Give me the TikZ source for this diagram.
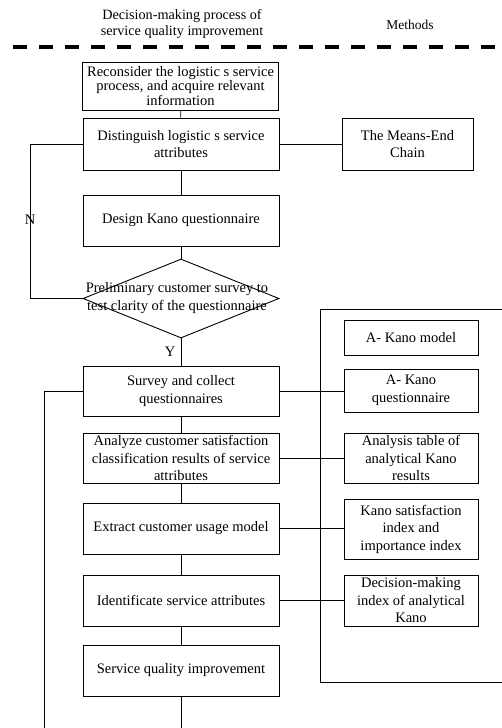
\documentclass[tikz,border=0pt]{standalone}
\usepackage{fontspec}
\setmainfont{Liberation Serif}
\usetikzlibrary{shapes.geometric}
\begin{document}
\begin{tikzpicture}[x=1pt,y=-1pt,
  every node/.style={font=\fontsize{14.5}{17.5}\selectfont},
  conn/.style={line width=0.9pt},
  procbox/.style={draw, line width=0.9pt, rectangle, inner sep=0pt, minimum width=196pt, align=center},
  methbox/.style={draw, line width=0.9pt, rectangle, inner sep=0pt, minimum width=134pt, align=center},
  lbl/.style={inner sep=0pt, align=center}]
\useasboundingbox (0,0) rectangle (501,728);

% header
\node[lbl, font=\fontsize{14.2}{16}\selectfont] (hdl) at (182,24.5) {Decision-making process of\\service quality improvement};
\node[lbl, font=\fontsize{13.5}{16}\selectfont] (hdr) at (410,25) {Methods};
\draw[line width=3.3pt, dash pattern=on 14pt off 12pt] (13,47) -- (515,47);

% process column
\node[procbox, minimum height=48pt, font=\fontsize{14.5}{13}\selectfont] (b1) at (180.5,86) {Reconsider the logistic s service\\process, and acquire relevant\\information};
\node[procbox, minimum height=52pt] (b2) at (181,144) {Distinguish logistic s service\\attributes};
\node[procbox, minimum height=51pt] (b3) at (181,220.5) {Design Kano questionnaire};
\node[draw, diamond, line width=0.9pt, inner sep=0pt, minimum width=196pt, minimum height=79pt] (dm) at (181,298.5) {};
\node[lbl] (dmt) at (177,298) {Preliminary customer survey to\\test clarity of the questionnaire};
\node[procbox, minimum height=50pt] (b4) at (181,391) {Survey and collect\\questionnaires};
\node[procbox, minimum height=50pt] (b5) at (181,458) {Analyze customer satisfaction\\classification results of service\\attributes};
\node[procbox, minimum height=51pt] (b6) at (181,528.5) {Extract customer usage model};
\node[procbox, minimum height=51pt] (b7) at (181,600.5) {Identificate service attributes};
\node[procbox, minimum height=51pt] (b8) at (181,670.5) {Service quality improvement};

% methods column
\node[methbox, minimum width=131pt, minimum height=52pt] (me) at (407.5,144) {The Means-End\\Chain};
\draw[line width=0.9pt] (520,309) -- (320,309) -- (320,682) -- (520,682);
\node[methbox, minimum height=35pt] (m1) at (411,337.5) {A- Kano model};
\node[methbox, minimum height=43pt] (m2) at (411,390.5) {A- Kano\\questionnaire};
\node[methbox, minimum height=50pt] (m3) at (411,458) {Analysis table of\\analytical Kano\\results};
\node[methbox, minimum height=60pt] (m4) at (411,529) {Kano satisfaction\\index and\\importance index};
\node[methbox, minimum height=51pt] (m5) at (411,600.5) {Decision-making\\index of analytical\\Kano};

% labels
\node[lbl] (nl) at (30,220) {N};
\node[lbl] (yl) at (170,352) {Y};

% connectors
\draw[conn] (b1) -- (b2);
\draw[conn] (b2) -- (b3);
\draw[conn] (b3) -- (dm.north);
\draw[conn] (dm.south) -- (b4);
\draw[conn] (b4) -- (b5);
\draw[conn] (b5) -- (b6);
\draw[conn] (b6) -- (b7);
\draw[conn] (b7) -- (b8);
\coordinate (b8end) at (181,740);
\draw[conn] (b8) -- (b8end);
\draw[conn] (b2.east) -- (b2.east -| me.west);
\draw[conn] (b2.west) -- ++(-52,0) |- (dm.west);
\coordinate (lend) at (44,740);
\draw[conn] (b4.west) -| (lend);
\draw[conn] (b4.east) -- (b4.east -| m2.west);
\draw[conn] (b5.east) -- (b5.east -| m3.west);
\draw[conn] (b6.east) -- (b6.east -| m4.west);
\draw[conn] (b7.east) -- (b7.east -| m5.west);
\end{tikzpicture}
\end{document}
